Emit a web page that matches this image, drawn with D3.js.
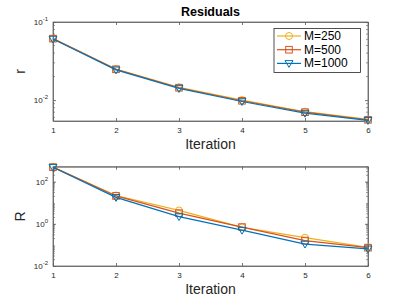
<!DOCTYPE html>
<html lang="en">
<head>
<meta charset="UTF-8">
<title>Residuals</title>
<script src="https://d3js.org/d3.v7.min.js"></script>
<style>
  body { margin: 0; background: #fff; }
  svg { font-family: "Liberation Sans", Arial, sans-serif; }
  .tick text { font-size: 8px; fill: #262626; }
</style>
</head>
<body>
<div id="chart"></div>
<script>
// Data
const iterations = [1, 2, 3, 4, 5, 6];
const seriesNames = ["M=250", "M=500", "M=1000"];
const colors = ["#EDB120", "#D95319", "#0072BD"];
const markers = ["circle", "square", "triangle"];

// small r (top panel)
const rValues = [
  [0.0615, 0.0250, 0.0146, 0.0100, 0.0071, 0.00565],
  [0.0612, 0.0248, 0.0144, 0.0098, 0.0070, 0.00560],
  [0.0605, 0.0244, 0.0141, 0.0096, 0.0068, 0.00550]
];
// capital R (bottom panel)
const RValues = [
  [490, 22, 4.3, 0.68, 0.22, 0.076],
  [485, 21, 3.2, 0.70, 0.16, 0.074],
  [480, 18, 2.2, 0.50, 0.11, 0.065]
];

const W = 407, H = 305;
const svg = d3.select("#chart").append("svg")
  .attr("width", W).attr("height", H);

const x0 = 53, x1 = 368;
const x = d3.scaleLinear().domain([1, 6]).range([x0, x1]);

function expLabel(sel, v) {
  const e = Math.round(Math.log10(v));
  sel.text(null);
  sel.append("tspan").text("10");
  sel.append("tspan").attr("dy", -4).attr("font-size", "6px").text(e < 0 ? "-" + (-e) : e);
}

function panel(top, bottom, domain, majors, values, ylab, title) {
  const y = d3.scaleLog().domain(domain).range([bottom, top]);
  const g = svg.append("g");

  // minor ticks
  const lo = Math.floor(Math.log10(domain[0])), hi = Math.ceil(Math.log10(domain[1]));
  const minors = [];
  for (let e = lo; e < hi; e++) {
    for (let k = 2; k <= 9; k++) {
      const v = k * Math.pow(10, e);
      if (v >= domain[0] && v <= domain[1]) minors.push(v);
    }
  }
  g.selectAll(".minL").data(minors).enter().append("line")
    .attr("x1", x0).attr("x2", x0 + 2)
    .attr("y1", d => y(d)).attr("y2", d => y(d))
    .attr("stroke", "#555").attr("stroke-width", 0.6);
  g.selectAll(".minR").data(minors).enter().append("line")
    .attr("x1", x1).attr("x2", x1 - 2)
    .attr("y1", d => y(d)).attr("y2", d => y(d))
    .attr("stroke", "#555").attr("stroke-width", 0.6);

  // left axis
  const ay = g.append("g").attr("transform", `translate(${x0},0)`)
    .call(d3.axisLeft(y).tickValues(majors).tickSizeInner(-3).tickSizeOuter(0).tickPadding(5));
  ay.selectAll(".tick text").each(function(d) { expLabel(d3.select(this), d); });
  // right ticks
  g.append("g").attr("transform", `translate(${x1},0)`)
    .call(d3.axisRight(y).tickValues(majors).tickSizeInner(-3).tickSizeOuter(0).tickFormat(""));

  // bottom axis
  g.append("g").attr("transform", `translate(0,${bottom})`)
    .call(d3.axisBottom(x).tickValues(iterations).tickSizeInner(-3).tickSizeOuter(0).tickPadding(6).tickFormat(d3.format("d")));
  g.append("g").attr("transform", `translate(0,${top})`)
    .call(d3.axisTop(x).tickValues(iterations).tickSizeInner(-3).tickSizeOuter(0).tickFormat(""));

  g.selectAll(".domain").attr("stroke", "#555").attr("stroke-width", 0.8);
  g.selectAll(".tick line").attr("stroke", "#555").attr("stroke-width", 0.8);

  // box
  g.append("rect").attr("x", x0).attr("y", top).attr("width", x1 - x0).attr("height", bottom - top)
    .attr("fill", "none").attr("stroke", "#666").attr("stroke-width", 0.8);

  // series
  const line = d3.line().x((d, i) => x(iterations[i])).y(d => y(d));
  values.forEach((vals, s) => {
    g.append("path").datum(vals).attr("d", line)
      .attr("fill", "none").attr("stroke", colors[s]).attr("stroke-width", 1.2);
    vals.forEach((v, i) => drawMarker(g, markers[s], x(iterations[i]), y(v), colors[s]));
  });

  // labels
  g.append("text").attr("x", (x0 + x1) / 2).attr("y", bottom + 28)
    .attr("text-anchor", "middle").attr("font-size", "14px").attr("fill", "#262626").text("Iteration");
  g.append("text").attr("transform", `translate(25,${(top + bottom) / 2}) rotate(-90)`)
    .attr("text-anchor", "middle").attr("font-size", "14px").attr("fill", "#262626").text(ylab);
  if (title) {
    g.append("text").attr("x", (x0 + x1) / 2).attr("y", top - 6)
      .attr("text-anchor", "middle").attr("font-size", "12.5px").attr("font-weight", "bold")
      .attr("fill", "#000").text(title);
  }
  return g;
}

function drawMarker(g, type, cx, cy, c) {
  if (type === "circle") {
    g.append("circle").attr("cx", cx).attr("cy", cy).attr("r", 3.5)
      .attr("fill", "none").attr("stroke", c).attr("stroke-width", 1);
  } else if (type === "square") {
    g.append("rect").attr("x", cx - 3.3).attr("y", cy - 3.3).attr("width", 6.6).attr("height", 6.6)
      .attr("fill", "none").attr("stroke", c).attr("stroke-width", 1);
  } else {
    g.append("path").attr("d", `M${cx - 4},${cy - 2.8}L${cx + 4},${cy - 2.8}L${cx},${cy + 4}Z`)
      .attr("fill", "none").attr("stroke", c).attr("stroke-width", 1);
  }
}

panel(22, 121, [0.0054, 0.1], [0.01, 0.1], rValues, "r", "Residuals");
panel(166.7, 266, [0.01, 510], [0.01, 1, 100], RValues, "R", null);

// legend
const lg = svg.append("g");
lg.append("rect").attr("x", 274).attr("y", 28.5).attr("width", 86.5).attr("height", 44)
  .attr("fill", "#fff").attr("stroke", "#262626").attr("stroke-width", 0.8);
seriesNames.forEach((n, i) => {
  const yy = 36 + i * 13.7;
  lg.append("line").attr("x1", 277).attr("x2", 301).attr("y1", yy).attr("y2", yy)
    .attr("stroke", colors[i]).attr("stroke-width", 1.2);
  drawMarker(lg, markers[i], 289, yy, colors[i]);
  lg.append("text").attr("x", 304).attr("y", yy + 4).attr("font-size", "12px")
    .attr("fill", "#000").text(n);
});
</script>
</body>
</html>
